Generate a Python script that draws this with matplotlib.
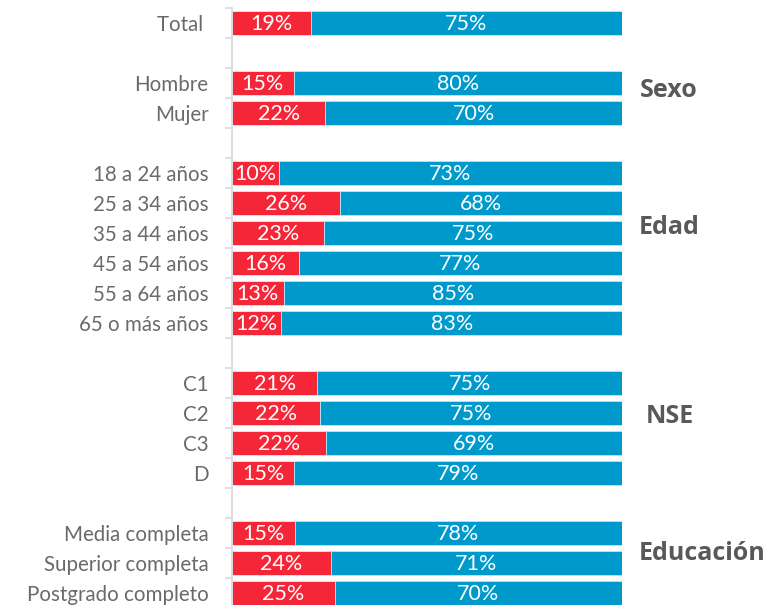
import numpy as np
import matplotlib.pyplot as plt

# rows in display order, "" = empty spacer row between groups
categories = ["Total ", "",
              "Hombre", "Mujer", "",
              "18 a 24 años", "25 a 34 años", "35 a 44 años", "45 a 54 años",
              "55 a 64 años", "65 o más años", "",
              "C1", "C2", "C3", "D", "",
              "Media completa", "Superior completa", "Postgrado completo"]
red_vals = [19, np.nan, 15, 22, np.nan, 10, 26, 23, 16, 13, 12, np.nan,
            21, 22, 22, 15, np.nan, 15, 24, 25]
blue_vals = [75, np.nan, 80, 70, np.nan, 73, 68, 75, 77, 85, 83, np.nan,
             75, 75, 69, 79, np.nan, 78, 71, 70]

group_names = ["Sexo", "Edad", "NSE", "Educación"]
group_rows = [2.25, 6.83, 13.12, 17.7]
group_x = [1.045, 1.043, 1.06, 1.043]

red = np.array(red_vals, dtype=float)
blue = np.array(blue_vals, dtype=float)
total = red + blue
red_share = red / total
blue_share = blue / total
y = np.arange(len(categories))

RED = '#F42637'
BLUE = '#0099CC'
GREY = '#595959'

fig = plt.figure(figsize=(7.66, 6.05), dpi=100)
ax = fig.add_axes([232 / 766, -3 / 605, 390 / 766, 600 / 605])

ax.barh(y, red_share, height=0.77, color=RED, edgecolor='#dbeef6', linewidth=0.6)
ax.barh(y, blue_share, left=red_share, height=0.77, color=BLUE,
        edgecolor='#bfe3f2', linewidth=0.6)

# value labels centred in each segment
for i in range(len(categories)):
    if np.isnan(red[i]):
        continue
    ax.text(red_share[i] / 2, y[i] + 0.03, f"{red[i]:.0f}%", ha='center', va='center',
            color='white', fontsize=15.5, family='Lato')
    ax.text(red_share[i] + blue_share[i] / 2, y[i] + 0.03, f"{blue[i]:.0f}%",
            ha='center', va='center', color='white', fontsize=15.5, family='Lato')

# group titles on the right
for name, row, gx in zip(group_names, group_rows, group_x):
    ax.text(gx, row, name, ha='left', va='center', color=GREY, fontsize=18,
            fontweight='bold', family='Open Sans', transform=ax.get_yaxis_transform())

ax.set_xlim(0, 1)
ax.set_ylim(len(categories) - 0.5, -0.5)
ax.set_yticks(y)
ax.set_yticklabels(categories, fontsize=14.8, color='#6a6a6a', family='Lato')
ax.set_yticks(np.arange(len(categories) + 1) - 0.5, minor=True)
ax.tick_params(axis='y', which='major', length=0, pad=17)
ax.tick_params(axis='y', which='minor', length=5, width=1.2, color='#d9d9d9')
ax.set_xticks([])
for s in ['top', 'right', 'bottom']:
    ax.spines[s].set_visible(False)
ax.spines['left'].set_color('#d9d9d9')
ax.spines['left'].set_linewidth(1.3)

plt.savefig('out.png', dpi=100)
